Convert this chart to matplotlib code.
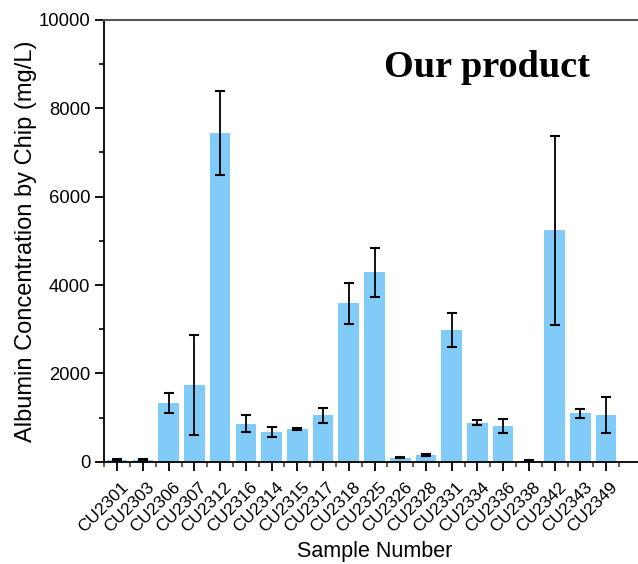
import matplotlib
matplotlib.use("Agg")
import matplotlib.pyplot as plt
import matplotlib.transforms as mtransforms
from matplotlib.ticker import MultipleLocator

plt.rcParams['font.family'] = ['Liberation Sans', 'DejaVu Sans']

# sample ids and albumin concentration read from the chip (mg/L)
samples = ["CU2301", "CU2303", "CU2306", "CU2307", "CU2312", "CU2316", "CU2314",
           "CU2315", "CU2317", "CU2318", "CU2325", "CU2326", "CU2328", "CU2331",
           "CU2334", "CU2336", "CU2338", "CU2342", "CU2343", "CU2349"]
conc = [40, 40, 1330, 1750, 7440, 860, 670, 743, 1060, 3590, 4290, 95, 150,
        2990, 890, 820, 30, 5240, 1095, 1065]
err = [20, 20, 220, 1130, 950, 190, 110, 25, 170, 460, 550, 15, 20,
       385, 55, 160, 15, 2135, 105, 400]

BAR_COLOR = "#80cbf8"

fig = plt.figure(figsize=(6.38, 5.64), dpi=100)
ax = fig.add_axes([0.1635, 0.181, 0.847, 0.784])

x = list(range(len(samples)))
ax.bar(x, conc, width=0.8, color=BAR_COLOR, zorder=2)
ax.errorbar(x, conc, yerr=err, fmt="none", ecolor="black", elinewidth=1.3,
            capsize=3.5, capthick=1.5, zorder=3)

ax.set_xlim(-0.5, 20.5)
ax.set_ylim(0, 10000)

# ticks
ax.xaxis.set_major_locator(MultipleLocator(1))
ax.xaxis.set_minor_locator(MultipleLocator(1, offset=0.5))
ax.yaxis.set_major_locator(MultipleLocator(2000))
ax.yaxis.set_minor_locator(MultipleLocator(1000))
ax.set_xticks(x)
ax.set_xticklabels(samples, rotation=45, ha="right", va="top",
                   rotation_mode="anchor", fontsize=12.5)

ax.tick_params(axis="both", which="major", direction="out", length=6.5,
               width=1.3, color="black")
ax.tick_params(axis="both", which="minor", direction="out", length=3.5,
               width=1.2)
ax.tick_params(axis="x", which="major", pad=6)
ax.tick_params(axis="x", which="minor", color="#6b3a2a")
ax.tick_params(axis="y", labelsize=13.3)

# nudge the rotated labels a little to the right (after tick_params)
shift = mtransforms.ScaledTranslation(0.04, 0, fig.dpi_scale_trans)
for lab in ax.get_xticklabels():
    lab.set_transform(lab.get_transform() + shift)

for side in ["left", "bottom"]:
    ax.spines[side].set_linewidth(1.3)
    ax.spines[side].set_color("black")
ax.spines["top"].set_color("#555555")
ax.spines["top"].set_linewidth(1.5)
ax.spines["right"].set_visible(False)

ax.set_ylabel("Albumin Concentration by Chip (mg/L)", fontsize=17, labelpad=1)
ax.set_xlabel("Sample Number", fontsize=15.5, labelpad=4)

ax.text(0.517, 0.87, "Our product", transform=ax.transAxes,
        fontsize=27.5, fontweight="bold", family="Liberation Serif",
        ha="left", va="baseline")

fig.savefig("out.png", dpi=100)
